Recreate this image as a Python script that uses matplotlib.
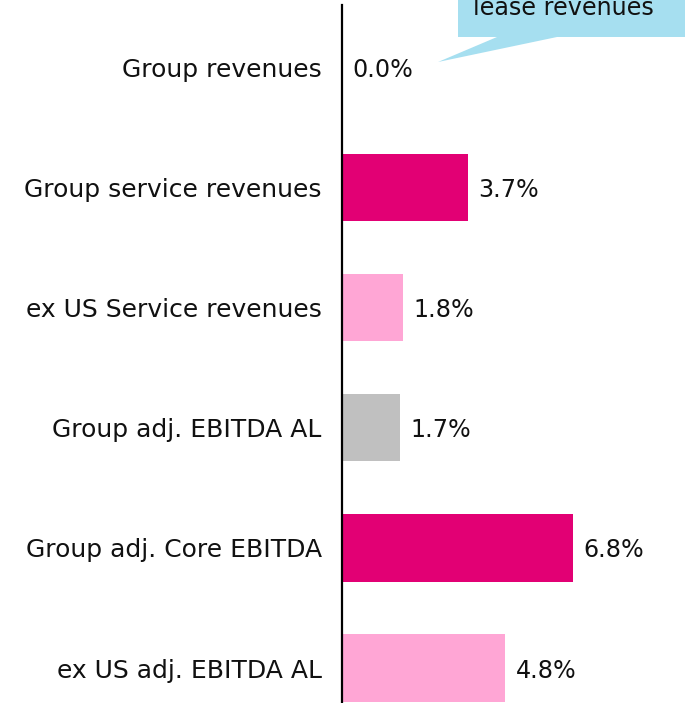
import matplotlib.pyplot as plt
from matplotlib.patches import Polygon

# data
categories = [
    "Group revenues",
    "Group service revenues",
    "ex US Service revenues",
    "Group adj. EBITDA AL",
    "Group adj. Core EBITDA",
    "ex US adj. EBITDA AL",
]
values = [0.0, 3.7, 1.8, 1.7, 6.8, 4.8]
bar_colors = ["#E20074", "#E20074", "#FFA6D5", "#C0C0C0", "#E20074", "#FFA6D5"]
callout_text = "lease revenues"

W, H = 685, 703
fig = plt.figure(figsize=(W / 100, H / 100), dpi=100)
plt.rcParams["font.family"] = ["DejaVu Sans"]
FS = 17.2


def fx(px):
    return px / W


def fy(py):
    return 1 - py / H


ax = fig.add_axes([fx(342), 0, fx(W) - fx(342), fy(5)])

ypos = list(range(len(categories)))
ax.barh(ypos, values, height=0.56, color=bar_colors)
ax.set_ylim(len(categories) - 1 + 0.29, -0.516)
ax.set_xlim(0, (W - 342) / 34.0)

for y, v in zip(ypos, values):
    ax.text(v + 0.3, y, f"{v:.1f}%", va="center_baseline", ha="left", fontsize=FS, color="#111111")

ax.set_yticks(ypos)
ax.set_yticklabels(categories, fontsize=18, color="#111111")
ax.tick_params(axis="y", length=0, pad=14.5)
ax.set_xticks([])
for side in ["top", "right", "bottom"]:
    ax.spines[side].set_visible(False)
ax.spines["left"].set_linewidth(1.6)
ax.spines["left"].set_color("black")

# callout bubble at the top
box = Polygon(
    [
        (fx(458), fy(-10)),
        (fx(W + 5), fy(-10)),
        (fx(W + 5), fy(37)),
        (fx(557), fy(37)),
        (fx(438), fy(62)),
        (fx(497), fy(37)),
        (fx(458), fy(37)),
    ],
    closed=True,
    transform=fig.transFigure,
    facecolor="#A6DFF0",
    edgecolor="none",
)
fig.patches.append(box)
fig.text(fx(473), fy(15), callout_text, fontsize=FS, color="#111111", va="baseline", ha="left")

plt.savefig("out.png", dpi=100)
